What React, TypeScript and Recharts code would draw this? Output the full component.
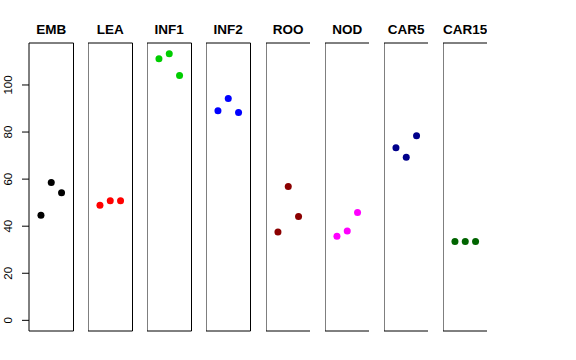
import { ReferenceArea, Scatter, ScatterChart, XAxis, YAxis } from "recharts";

const panels = ["EMB", "LEA", "INF1", "INF2", "ROO", "NOD", "CAR5", "CAR15"];
const colors = ["#000000", "#FF0000", "#00CD00", "#0000FF", "#8B0000", "#FF00FF", "#00008B", "#006400"];

const embValues = [44.7, 58.6, 54.2];
const leaValues = [48.9, 50.8, 50.8];
const inf1Values = [111.1, 113.3, 104.0];
const inf2Values = [89.0, 94.2, 88.3];
const rooValues = [37.5, 56.9, 44.1];
const nodValues = [35.7, 38.0, 45.8];
const car5Values = [73.3, 69.3, 78.4];
const car15Values = [33.5, 33.5, 33.5];

const yTicks = [0, 20, 40, 60, 80, 100];

const panelValues = [embValues, leaValues, inf1Values, inf2Values, rooValues, nodValues, car5Values, car15Values];

// R-style 4% padding around [0, max] and [0, 4]
const yMax = Math.max(...panelValues.flat());
const yPad = yMax * 0.04;
const yDomain: [number, number] = [-yPad, yMax + yPad];
const xDomain: [number, number] = [-0.16, 4.16];

const TOP = 43;
const PLOT_H = 288;
const FIRST_LEFT = 29;
const STEP = 59.14;
const PANEL_W = 44.5;
const FONT = "'Liberation Sans', Arial, Helvetica, sans-serif";

function Dot(props: any) {
  return <circle cx={props.cx} cy={props.cy} r={3.5} fill={props.fill} />;
}

function PanelTitle(props: any) {
  const vb = props.viewBox;
  return (
    <text x={vb.x + vb.width / 2} y={vb.y - 9.3} textAnchor="middle" fontSize={13.5} fontWeight="bold" fill="#000" fontFamily={FONT}>
      {props.text}
    </text>
  );
}

function YTick(props: any) {
  const y = props.payload.coordinate;
  const x = 12;
  return (
    <text x={x} y={y} transform={`rotate(-90, ${x}, ${y})`} textAnchor="middle" fontSize={11.5} fill="#000" fontFamily={FONT}>
      {props.payload.value}
    </text>
  );
}

function Panel({ idx }: { idx: number }) {
  const first = idx === 0;
  const left = FIRST_LEFT + idx * STEP;
  const axisW = first ? FIRST_LEFT : 0;
  const data = panelValues[idx].map((v, i) => ({ x: i + 1, y: v }));
  return (
    <div style={{ position: "absolute", left: left - axisW, top: 0 }}>
      <ScatterChart width={PANEL_W + axisW} height={TOP + PLOT_H + 2} margin={{ top: TOP, right: 0, bottom: 2, left: 0 }}>
        <XAxis type="number" dataKey="x" domain={xDomain} hide allowDataOverflow />
        <YAxis
          type="number"
          dataKey="y"
          domain={yDomain}
          ticks={yTicks}
          hide={!first}
          width={axisW}
          allowDataOverflow
          axisLine={false}
          tickSize={7}
          tickLine={{ stroke: "#000" }}
          tick={<YTick />}
        />
        <ReferenceArea
          x1={xDomain[0]}
          x2={xDomain[1]}
          y1={yDomain[0]}
          y2={yDomain[1]}
          fill="none"
          fillOpacity={0}
          stroke="#000"
          strokeWidth={1}
          label={<PanelTitle text={panels[idx]} />}
        />
        <Scatter data={data} fill={colors[idx]} shape={<Dot />} isAnimationActive={false} />
      </ScatterChart>
    </div>
  );
}

export default function App() {
  return (
    <div style={{ position: "absolute", left: 0, top: 0, width: 576, height: 360, background: "#fff" }}>
      {panels.map((p, i) => (
        <Panel key={p} idx={i} />
      ))}
    </div>
  );
}
